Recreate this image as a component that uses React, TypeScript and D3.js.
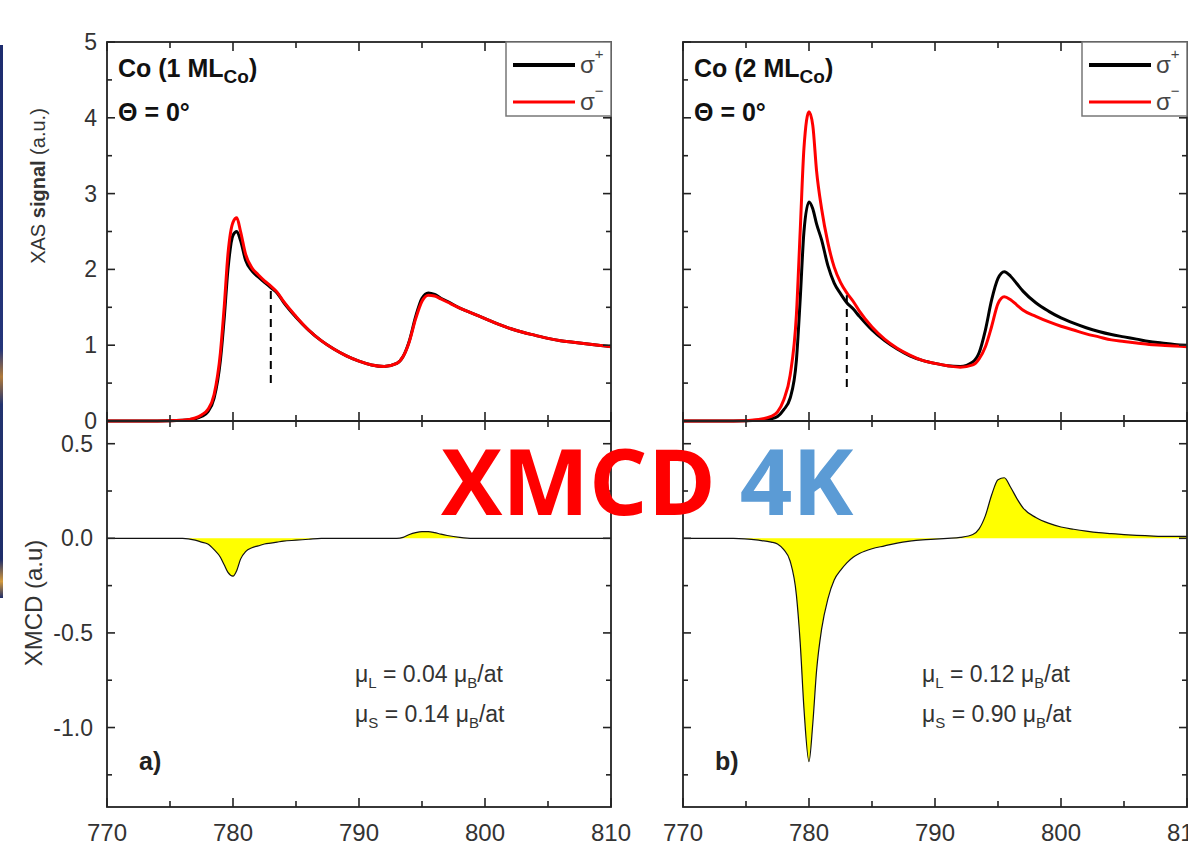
import React from 'react'
import * as d3 from 'd3'

const width = 1188
const height = 855
const top = 42
const mid = 421
const bottom = 807
const font = 'Liberation Sans, Arial, sans-serif'

// photon energy grid (eV)
const energy = [
    770, 772, 774, 776, 777, 777.5, 778, 778.5, 779, 779.3, 779.6, 780, 780.3, 780.6, 781, 781.5, 782, 782.5, 783,
    783.5, 784, 785, 786, 787, 788, 789, 790, 791, 792, 793, 793.5, 794, 794.5, 795, 795.5, 796, 796.5, 797, 798, 799,
    800, 801, 802, 803, 804, 805, 806, 807, 808, 809, 810,
]

// panel a) 1 ML Co
const xasPlus1 = [
    0, 0, 0, 0.01, 0.03, 0.06, 0.12, 0.3, 0.8, 1.35, 2.0, 2.45, 2.5, 2.38, 2.12, 1.98, 1.9, 1.83, 1.76, 1.69, 1.57,
    1.37, 1.2, 1.06, 0.95, 0.86, 0.79, 0.74, 0.72, 0.76, 0.85, 1.06, 1.38, 1.62, 1.69, 1.67, 1.62, 1.58, 1.49, 1.42,
    1.35, 1.28, 1.22, 1.17, 1.13, 1.09, 1.06, 1.04, 1.02, 1.0, 0.98,
]
const xasMinus1 = [
    0, 0, 0, 0.01, 0.04, 0.08, 0.15, 0.35, 0.9, 1.5, 2.2, 2.62, 2.68, 2.5, 2.2, 2.02, 1.93, 1.85, 1.78, 1.7, 1.58,
    1.38, 1.2, 1.06, 0.95, 0.86, 0.79, 0.74, 0.72, 0.76, 0.85, 1.05, 1.35, 1.58, 1.66, 1.65, 1.61, 1.57, 1.49, 1.42,
    1.35, 1.28, 1.22, 1.17, 1.13, 1.09, 1.06, 1.04, 1.02, 1.0, 0.98,
]
const xmcd1 = [
    0, 0, 0, 0, -0.01, -0.02, -0.03, -0.06, -0.1, -0.14, -0.18, -0.2, -0.17, -0.11, -0.07, -0.05, -0.04, -0.03,
    -0.025, -0.02, -0.015, -0.01, -0.005, 0, 0, 0, 0, 0, 0, 0, 0.005, 0.02, 0.03, 0.035, 0.035, 0.03, 0.022, 0.015,
    0.005, 0, 0, 0, 0, 0, 0, 0, 0, 0, 0, 0, 0,
]

// panel b) 2 ML Co
const xasPlus2 = [
    0, 0, 0, 0.01, 0.03, 0.06, 0.15, 0.3, 0.8, 1.6, 2.5, 2.89, 2.8, 2.6, 2.39, 2.05, 1.82, 1.68, 1.56, 1.48, 1.38,
    1.2, 1.06, 0.95, 0.86, 0.8, 0.76, 0.73, 0.72, 0.78, 0.9, 1.2, 1.6, 1.88, 1.97, 1.91, 1.81, 1.71, 1.56, 1.45, 1.36,
    1.29, 1.23, 1.18, 1.14, 1.11, 1.08, 1.05, 1.03, 1.01, 1.0,
]
const xasMinus2 = [
    0, 0, 0, 0.02, 0.06, 0.12, 0.28, 0.6, 1.4, 2.5, 3.6, 4.08, 3.9, 3.3, 2.8, 2.35, 2.03, 1.83, 1.69, 1.58, 1.45,
    1.24, 1.08, 0.96, 0.87, 0.8, 0.76, 0.73, 0.71, 0.74, 0.82, 0.98, 1.25, 1.55, 1.64, 1.6, 1.53, 1.46, 1.38, 1.31,
    1.25, 1.2, 1.15, 1.11, 1.07, 1.05, 1.03, 1.01, 1.0, 0.99, 0.98,
]
const xmcd2 = [
    0, 0, 0, -0.01, -0.02, -0.03, -0.06, -0.12, -0.3, -0.55, -0.9, -1.18, -0.98, -0.7, -0.48, -0.32, -0.22, -0.17,
    -0.13, -0.1, -0.08, -0.055, -0.04, -0.025, -0.015, -0.008, -0.004, 0, 0.005, 0.02, 0.05, 0.12, 0.23, 0.31, 0.32,
    0.27, 0.21, 0.16, 0.11, 0.08, 0.06, 0.048, 0.038, 0.03, 0.025, 0.02, 0.016, 0.013, 0.01, 0.01, 0.01,
]

const xTickLabels = [770, 780, 790, 800, 810]
const xasMajor = [0, 1, 2, 3, 4, 5]
const xasMinor = [0.5, 1.5, 2.5, 3.5, 4.5]
const xmcdMajor = [0.5, 0, -0.5, -1.0]
const xmcdMinor = [0.25, -0.25, -0.75, -1.25]
const xmcdTickLabels = ['0.5', '0.0', '-0.5', '-1.0']

const markerEnergy = 783
const marker1 = [0.5, 1.75]
const marker2 = [0.45, 1.66]

const Panel = ({ id, left, right, plus, minus, xmcd, ml, marker, muL, muS, tag, muX, showY }) => {
    const x = d3.scaleLinear().domain([770, 810]).range([left, right])
    const yA = d3.scaleLinear().domain([0, 5]).range([mid, top])
    const yB = d3.scaleLinear().domain([-1.42, 0.62]).range([bottom, mid])

    const xasLine = d3
        .line<number>()
        .x((_, i) => x(energy[i]))
        .y((d) => yA(d))
        .curve(d3.curveMonotoneX)
    const xmcdLine = d3
        .line<number>()
        .x((_, i) => x(energy[i]))
        .y((d) => yB(d))
        .curve(d3.curveMonotoneX)
    const xmcdArea = d3
        .area<number>()
        .x((_, i) => x(energy[i]))
        .y0(yB(0))
        .y1((d) => yB(d))
        .curve(d3.curveMonotoneX)

    const xTicks = x.ticks(8)
    const stroke = '#222'
    const tickCol = '#333'

    return (
        <g>
            <defs>
                <clipPath id={'clip' + id}>
                    <rect x={left} y={top} width={right - left} height={bottom - top} />
                </clipPath>
            </defs>

            <g clipPath={`url(#clip${id})`}>
                <path d={xmcdArea(xmcd)} fill={'#ffff00'} stroke={'none'} />
                <path d={xmcdLine(xmcd)} fill={'none'} stroke={'#111'} strokeWidth={1.2} />
                <path d={xasLine(plus)} fill={'none'} stroke={'#000'} strokeWidth={3} />
                <path d={xasLine(minus)} fill={'none'} stroke={'#ff0000'} strokeWidth={3} />
            </g>

            {/* L3 shoulder marker */}
            <line
                x1={x(markerEnergy)}
                x2={x(markerEnergy)}
                y1={yA(marker[0])}
                y2={yA(marker[1])}
                stroke={'#000'}
                strokeWidth={2}
                strokeDasharray={'8,6'}
            />

            {/* frames */}
            <rect x={left} y={top} width={right - left} height={mid - top} fill={'none'} stroke={stroke} strokeWidth={1.8} />
            <rect x={left} y={mid} width={right - left} height={bottom - mid} fill={'none'} stroke={stroke} strokeWidth={1.8} />

            {xTicks.map((t) => {
                const len = t % 10 === 0 ? 9 : 6
                return (
                    <g key={'xt' + t} stroke={stroke} strokeWidth={1.6}>
                        <line x1={x(t)} x2={x(t)} y1={top} y2={top + len} />
                        <line x1={x(t)} x2={x(t)} y1={mid} y2={mid - len} />
                        <line x1={x(t)} x2={x(t)} y1={mid} y2={mid + len} />
                        <line x1={x(t)} x2={x(t)} y1={bottom} y2={bottom - len} />
                    </g>
                )
            })}
            {xTickLabels.map((t) => (
                <text key={'xl' + t} x={x(t)} y={841} textAnchor={'middle'} fontSize={24} fill={tickCol} fontFamily={font}>
                    {t}
                </text>
            ))}

            {[...xasMajor.map((v) => [v, 8]), ...xasMinor.map((v) => [v, 5])].map(([v, len]) => (
                <g key={'ya' + v} stroke={stroke} strokeWidth={1.6}>
                    <line x1={left} x2={left + len} y1={yA(v)} y2={yA(v)} />
                    <line x1={right} x2={right - len} y1={yA(v)} y2={yA(v)} />
                </g>
            ))}
            {[...xmcdMajor.map((v) => [v, 8]), ...xmcdMinor.map((v) => [v, 5])].map(([v, len]) => (
                <g key={'yb' + v} stroke={stroke} strokeWidth={1.6}>
                    <line x1={left} x2={left + len} y1={yB(v)} y2={yB(v)} />
                    <line x1={right} x2={right - len} y1={yB(v)} y2={yB(v)} />
                </g>
            ))}
            {showY &&
                xasMajor.map((v) => (
                    <text key={'yal' + v} x={left - 10} y={yA(v) + 8} textAnchor={'end'} fontSize={23} fill={tickCol} fontFamily={font}>
                        {v}
                    </text>
                ))}
            {showY &&
                xmcdMajor.map((v, i) => (
                    <text key={'ybl' + v} x={left - 14} y={yB(v) + 8} textAnchor={'end'} fontSize={23} fill={tickCol} fontFamily={font}>
                        {xmcdTickLabels[i]}
                    </text>
                ))}

            {/* sample labels */}
            <text x={left + 11} y={77} fontSize={25} fontWeight={'bold'} fill={'#111'} fontFamily={font}>
                {`Co (${ml} ML`}
                <tspan fontSize={19} dy={6}>
                    Co
                </tspan>
                <tspan dy={-6}>)</tspan>
            </text>
            <text x={left + 11} y={121} fontSize={25} fontWeight={'bold'} fill={'#111'} fontFamily={font}>
                Θ = 0°
            </text>

            {/* legend */}
            <rect x={right - 105} y={top} width={105} height={74} fill={'#fff'} stroke={'#777'} strokeWidth={1.5} />
            <line x1={right - 98} x2={right - 36} y1={65} y2={65} stroke={'#000'} strokeWidth={4} />
            <line x1={right - 98} x2={right - 36} y1={102} y2={102} stroke={'#ff0000'} strokeWidth={3} />
            <text x={right - 31} y={73} fontSize={24} fill={'#444'} fontFamily={font}>
                σ<tspan fontSize={15} dy={-14}>+</tspan>
            </text>
            <text x={right - 31} y={110} fontSize={24} fill={'#444'} fontFamily={font}>
                σ<tspan fontSize={15} dy={-14}>−</tspan>
            </text>

            {/* moments */}
            <text x={muX} y={682} fontSize={23} fill={'#333'} fontFamily={font}>
                μ<tspan fontSize={15} dy={6}>L</tspan>
                <tspan dy={-6}>{` = ${muL} μ`}</tspan>
                <tspan fontSize={15} dy={6}>B</tspan>
                <tspan dy={-6}>/at</tspan>
            </text>
            <text x={muX} y={722} fontSize={23} fill={'#333'} fontFamily={font}>
                μ<tspan fontSize={15} dy={6}>S</tspan>
                <tspan dy={-6}>{` = ${muS} μ`}</tspan>
                <tspan fontSize={15} dy={6}>B</tspan>
                <tspan dy={-6}>/at</tspan>
            </text>
            <text x={left + 32} y={770} fontSize={25} fontWeight={'bold'} fill={'#222'} fontFamily={font}>
                {tag}
            </text>
        </g>
    )
}

const App = () => {
    return (
        <svg
            width={width}
            height={height}
            style={{ position: 'absolute', left: 0, top: 0, background: '#fff', display: 'block' }}
        >
            <defs>
                <linearGradient id="edge" x1="0" y1="0" x2="0" y2="1">
                    <stop offset="0" stopColor="#1d2c6e" />
                    <stop offset="0.55" stopColor="#24357a" />
                    <stop offset="0.6" stopColor="#b07a3a" />
                    <stop offset="0.65" stopColor="#22336f" />
                    <stop offset="0.93" stopColor="#1e2d6a" />
                    <stop offset="0.97" stopColor="#d49a3c" />
                    <stop offset="1" stopColor="#1e2d6a" />
                </linearGradient>
            </defs>
            <rect x={0} y={0} width={width} height={height} fill={'#fff'} />
            <rect x={0} y={45} width={3} height={553} fill={'url(#edge)'} />

            <text transform={'translate(45,186) rotate(-90)'} textAnchor={'middle'} fontSize={20} fill={'#333'} fontFamily={font}>
                XAS <tspan fontWeight={'bold'}>signal</tspan> (a.u.)
            </text>
            <text transform={'translate(42,603) rotate(-90)'} textAnchor={'middle'} fontSize={24} fill={'#333'} fontFamily={font}>
                XMCD (a.u)
            </text>

            <Panel
                id={'a'}
                left={107}
                right={611}
                plus={xasPlus1}
                minus={xasMinus1}
                xmcd={xmcd1}
                ml={1}
                marker={marker1}
                muL={'0.04'}
                muS={'0.14'}
                tag={'a)'}
                muX={355}
                showY={true}
            />
            <Panel
                id={'b'}
                left={683}
                right={1187}
                plus={xasPlus2}
                minus={xasMinus2}
                xmcd={xmcd2}
                ml={2}
                marker={marker2}
                muL={'0.12'}
                muS={'0.90'}
                tag={'b)'}
                muX={922}
                showY={false}
            />

            <text x={441} y={515} fontSize={92} fontWeight={'bold'} fontFamily={'Open Sans, sans-serif'}>
                <tspan fill={'#ff0000'}>XMCD </tspan>
                <tspan fill={'#5b9bd5'}>4K</tspan>
            </text>
        </svg>
    )
}

export default App
